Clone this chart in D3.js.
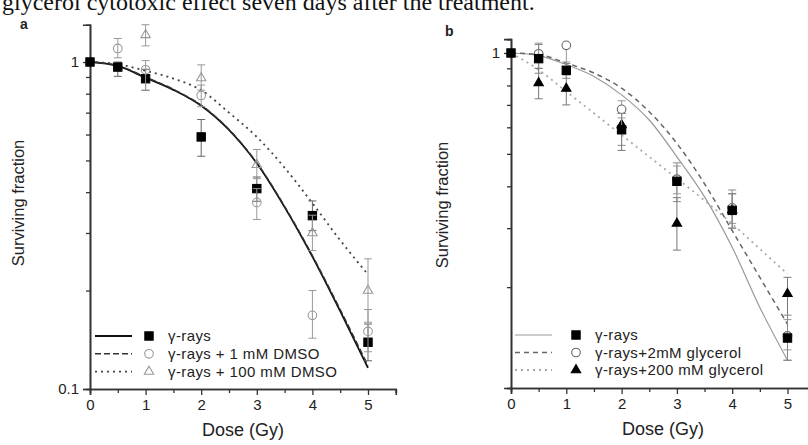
<!DOCTYPE html>
<html>
<head>
<meta charset="utf-8">
<script src="https://cdn.jsdelivr.net/npm/d3@7"></script>
<style>
  body { margin: 0; background: #fff; }
  svg { display: block; }
  text { font-family: "Liberation Sans", Arial, sans-serif; fill: #222; }
</style>
</head>
<body>
<svg id="chart" width="808" height="445"></svg>
<script>
var fitDose = [0, 0.5, 1, 1.5, 2, 2.5, 3, 3.5, 4, 4.5, 5];

// panel a - DMSO
var aSqDose = [0, 0.5, 1, 2, 3, 4, 5];
var aSq = [1.0, 0.965, 0.889, 0.59, 0.41, 0.339, 0.139];
var aSqLo = [1.0, 0.904, 0.819, 0.515, 0.375, 0.305, 0.122];
var aSqHi = [1.0, 1.0, 0.95, 0.667, 0.445, 0.376, 0.158];
var aCiDose = [0.5, 1, 2, 3, 4, 5];
var aCi = [1.10, 0.947, 0.79, 0.372, 0.168, 0.15];
var aCiLo = [1.03, 0.82, 0.73, 0.33, 0.143, 0.13];
var aCiHi = [1.18, 1.01, 0.85, 0.41, 0.2, 0.175];
var aTrDose = [1, 2, 3, 4, 5];
var aTr = [1.21, 0.893, 0.485, 0.30, 0.2];
var aTrLo = [1.12, 0.82, 0.44, 0.265, 0.16];
var aTrHi = [1.3, 0.98, 0.54, 0.34, 0.25];
var aFitGamma = [1, 0.973, 0.895, 0.822, 0.735, 0.62, 0.49, 0.36, 0.254, 0.173, 0.116];
var aFitLow = [1, 0.975, 0.9, 0.825, 0.738, 0.622, 0.492, 0.362, 0.256, 0.175, 0.118];
var aFitHigh = [1, 0.985, 0.94, 0.89, 0.82, 0.70, 0.59, 0.475, 0.37, 0.285, 0.224];
var aLegend = ["\u03b3-rays", "\u03b3-rays + 1 mM DMSO", "\u03b3-rays + 100 mM DMSO"];

// panel b - glycerol
var bSqDose = [0, 0.5, 1, 2, 3, 4, 5];
var bSq = [1.0, 0.962, 0.888, 0.59, 0.414, 0.339, 0.141];
var bSqLo = [1.0, 0.87, 0.84, 0.53, 0.36, 0.3, 0.121];
var bSqHi = [1.0, 1.06, 0.93, 0.66, 0.47, 0.39, 0.165];
var bCiDose = [0.5, 1, 2, 3, 4, 5];
var bCi = [0.995, 1.054, 0.679, 0.42, 0.345, 0.143];
var bCiLo = [0.9, 0.94, 0.64, 0.38, 0.31, 0.13];
var bCiHi = [1.07, 1.06, 0.72, 0.46, 0.38, 0.16];
var bTrDose = [0.5, 1, 2, 3, 4, 5];
var bTr = [0.814, 0.783, 0.61, 0.31, 0.34, 0.191];
var bTrLo = [0.73, 0.70, 0.512, 0.258, 0.3, 0.121];
var bTrHi = [0.9, 0.86, 0.66, 0.37, 0.38, 0.214];
var bFitGamma = [1, 0.982, 0.923, 0.851, 0.75, 0.631, 0.49, 0.372, 0.263, 0.174, 0.121];
var bFitLow = [1, 0.989, 0.933, 0.871, 0.785, 0.668, 0.537, 0.407, 0.295, 0.214, 0.155];
var bFitHigh = [1, 0.891, 0.767, 0.661, 0.569, 0.49, 0.422, 0.363, 0.309, 0.26, 0.219];
var bLegend = ["\u03b3-rays", "\u03b3-rays+2mM glycerol", "\u03b3-rays+200 mM glycerol"];

var xMajor = [0, 1, 2, 3, 4, 5];
var xMinor = [0.5, 1.5, 2.5, 3.5, 4.5, 5.5];
var yMinor = [0.2, 0.3, 0.4, 0.5, 0.6, 0.7, 0.8, 0.9];

var svg = d3.select("#chart");

svg.append("text")
  .attr("x", 2).attr("y", 10)
  .style("font-family", "'Liberation Serif', 'Times New Roman', serif")
  .style("font-size", "24px").style("fill", "#111")
  .text("glycerol cytotoxic effect seven days after the treatment.");

function zip(d, v, lo, hi) {
  return d.map(function (x, i) { return { d: x, v: v[i], lo: lo ? lo[i] : v[i], hi: hi ? hi[i] : v[i] }; });
}

function marker(g, shape, cx, cy, fill, stroke) {
  if (shape == "square") {
    g.append("rect").attr("x", cx - 4.2).attr("y", cy - 4.2).attr("width", 8.4).attr("height", 8.4)
      .attr("fill", fill).attr("stroke", stroke);
  } else if (shape == "circle") {
    g.append("ellipse").attr("cx", cx).attr("cy", cy).attr("rx", 4.3).attr("ry", 4.3)
      .attr("fill", fill).attr("stroke", stroke).attr("stroke-width", 1.1);
  } else {
    g.append("path").attr("d", d3.symbol(d3.symbolTriangle, 38)())
      .attr("transform", "translate(" + cx + "," + cy + ")")
      .attr("fill", fill).attr("stroke", stroke).attr("stroke-width", 1.1);
  }
}

function panel(cfg) {
  var x = d3.scaleLinear().domain([0, 5.5]).range([cfg.x0, cfg.x0 + 5.5 * cfg.pxGy]);
  var y = d3.scaleLog().domain([0.1, cfg.yTop]).range([cfg.yBottom, cfg.yBottom - cfg.decade * Math.log10(cfg.yTop / 0.1)]);
  var g = svg.append("g");

  // axes
  var xa = g.append("g").attr("transform", "translate(0," + cfg.yBottom + ")");
  xa.call(d3.axisBottom(x).tickValues(xMajor).tickSize(6).tickPadding(4).tickFormat(d3.format("d")));
  xa.append("g").call(d3.axisBottom(x).tickValues(xMinor).tickSize(4).tickFormat(""));
  var ya = g.append("g").attr("transform", "translate(" + cfg.x0 + ",0)");
  ya.call(d3.axisLeft(y).tickValues(cfg.yLabels).tickSize(7).tickPadding(4)
    .tickFormat(function (d) { return d == 1 ? "1" : "0.1"; }));
  ya.append("g").call(d3.axisLeft(y).tickValues(cfg.yMinorTicks).tickSize(4).tickFormat(""));
  g.selectAll(".domain").attr("stroke", "#333").attr("stroke-width", 1.6);
  g.selectAll(".tick line").attr("stroke", "#333").attr("stroke-width", 1.3);
  g.selectAll(".tick text").style("font-size", "15px").style("font-family", "'Liberation Sans', Arial, sans-serif").attr("fill", "#222");

  g.append("text").attr("x", x(2.75)).attr("y", cfg.yBottom + 47)
    .attr("text-anchor", "middle").style("font-size", "18px").text("Dose (Gy)");
  g.append("text").attr("transform", "translate(" + cfg.ylabX + "," + cfg.ylabY + ") rotate(-90)")
    .attr("text-anchor", "middle").style("font-size", "16.5px").text("Surviving fraction");
  g.append("text").attr("x", cfg.tagX).attr("y", cfg.tagY).style("font-size", "14px")
    .style("font-weight", "bold").text(cfg.tag);

  // fitted curves
  var line = d3.line().x(function (d) { return x(d.d); }).y(function (d) { return y(d.v); }).curve(d3.curveMonotoneX);
  cfg.fits.forEach(function (f) {
    g.append("path").datum(zip(fitDose, f.v)).attr("d", line)
      .attr("fill", "none").attr("stroke", f.color).attr("stroke-width", f.w)
      .attr("stroke-dasharray", f.dash);
  });

  // data points with error bars
  cfg.points.forEach(function (p) {
    var data = zip(p.dose, p.v, p.lo, p.hi);
    var eb = g.append("g").attr("stroke", p.err).attr("stroke-width", 1);
    data.forEach(function (d) {
      if (d.hi == d.lo) return;
      eb.append("line").attr("x1", x(d.d)).attr("x2", x(d.d)).attr("y1", y(d.lo)).attr("y2", y(d.hi));
      eb.append("line").attr("x1", x(d.d) - 4).attr("x2", x(d.d) + 4).attr("y1", y(d.lo)).attr("y2", y(d.lo));
      eb.append("line").attr("x1", x(d.d) - 4).attr("x2", x(d.d) + 4).attr("y1", y(d.hi)).attr("y2", y(d.hi));
    });
    data.forEach(function (d) {
      marker(g, p.shape, x(d.d), y(d.v), p.fill, p.stroke);
    });
  });

  // legend: line of fit i, marker of series i
  cfg.legend.forEach(function (t, i) {
    var ly = cfg.legY + i * cfg.legGap;
    var f = cfg.fits[i], p = cfg.points[cfg.legOrder[i]];
    g.append("line").attr("x1", cfg.legX).attr("x2", cfg.legX + 37).attr("y1", ly).attr("y2", ly)
      .attr("stroke", f.color).attr("stroke-width", f.w).attr("stroke-dasharray", f.dash);
    marker(g, p.shape, cfg.legX + cfg.legMark, ly, p.fill, p.stroke);
    g.append("text").attr("x", cfg.legX + cfg.legText).attr("y", ly + 5).style("font-size", "15px")
      .style("letter-spacing", "0.4px").text(t);
  });
}

panel({
  x0: 90, pxGy: 55.6, yBottom: 389, decade: 327, yTop: 1.3,
  yLabels: [0.1, 1], yMinorTicks: yMinor,
  ylabX: 24, ylabY: 203, tag: "a", tagX: 20, tagY: 29,
  fits: [
    { v: aFitGamma, color: "#111", w: 1.8, dash: null },
    { v: aFitLow, color: "#333", w: 1.4, dash: "6,3" },
    { v: aFitHigh, color: "#444", w: 1.8, dash: "2,4" }
  ],
  points: [
    { shape: "square", dose: aSqDose, v: aSq, lo: aSqLo, hi: aSqHi, fill: "#000", stroke: "#000", err: "#666" },
    { shape: "circle", dose: aCiDose, v: aCi, lo: aCiLo, hi: aCiHi, fill: "none", stroke: "#999", err: "#999" },
    { shape: "triangle", dose: aTrDose, v: aTr, lo: aTrLo, hi: aTrHi, fill: "none", stroke: "#999", err: "#999" }
  ],
  legend: aLegend, legOrder: [0, 1, 2], legX: 95, legY: 336, legGap: 17.8, legMark: 54, legText: 73
});

panel({
  x0: 511, pxGy: 55.3, yBottom: 388, decade: 335, yTop: 1.1,
  yLabels: [1], yMinorTicks: [0.1].concat(yMinor),
  ylabX: 448, ylabY: 205, tag: "b", tagX: 445, tagY: 36,
  fits: [
    { v: bFitGamma, color: "#999", w: 1.2, dash: null },
    { v: bFitLow, color: "#666", w: 1.5, dash: "5,4" },
    { v: bFitHigh, color: "#aaa", w: 1.8, dash: "2,4" }
  ],
  points: [
    { shape: "circle", dose: bCiDose, v: bCi, lo: bCiLo, hi: bCiHi, fill: "#fff", stroke: "#666", err: "#999" },
    { shape: "triangle", dose: bTrDose, v: bTr, lo: bTrLo, hi: bTrHi, fill: "#000", stroke: "#000", err: "#777" },
    { shape: "square", dose: bSqDose, v: bSq, lo: bSqLo, hi: bSqHi, fill: "#000", stroke: "#000", err: "#888" }
  ],
  legend: bLegend, legOrder: [2, 0, 1], legX: 515, legY: 335, legGap: 17.5, legMark: 61, legText: 80
});
</script>
</body>
</html>
